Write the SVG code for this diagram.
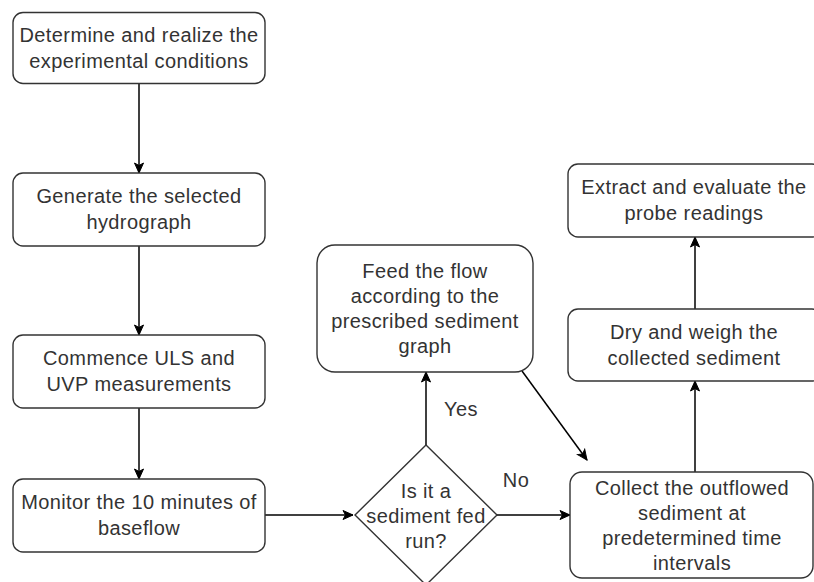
<svg xmlns="http://www.w3.org/2000/svg" width="814" height="582" viewBox="0 0 814 582">
<defs>
<marker id="arr" markerUnits="userSpaceOnUse" markerWidth="12" markerHeight="12" viewBox="0 0 12 12" refX="11" refY="6" orient="auto">
<path d="M1,1.5 L11,6 L1,10.5 L3.5,6 Z" fill="#000" stroke="#000" stroke-width="1"/>
</marker>
<style>
.box{fill:#fff;stroke:#333;stroke-width:1.4}
.t{font-family:"Liberation Sans",Arial,sans-serif;font-size:20px;fill:#333;text-anchor:middle;letter-spacing:0.4px}
.e{fill:none;stroke:#000;stroke-width:1.5;marker-end:url(#arr)}
</style>
</defs>
<rect width="814" height="582" fill="#fff"/>
<g id="connectors">
<line class="e" x1="139" y1="84" x2="139" y2="173"/>
<line class="e" x1="139" y1="246" x2="139" y2="335"/>
<line class="e" x1="139" y1="408" x2="139" y2="479"/>
<line class="e" x1="265" y1="515" x2="353" y2="515"/>
<line class="e" x1="426" y1="445" x2="426" y2="372"/>
<line class="e" x1="497" y1="515" x2="570" y2="515"/>
<line class="e" x1="522" y1="371" x2="587" y2="460"/>
<line class="e" x1="695" y1="472" x2="695" y2="381"/>
<line class="e" x1="695" y1="309" x2="695" y2="237"/>
<text class="t" x="461" y="416">Yes</text>
<text class="t" x="516" y="487">No</text>
</g>
<g id="n1">
<rect class="box" x="13" y="12.5" width="252" height="71" rx="10"/>
<text class="t" x="139" y="42">Determine and realize the</text>
<text class="t" x="139" y="68">experimental conditions</text>
</g>
<g id="n2">
<rect class="box" x="13" y="173" width="252" height="73" rx="10"/>
<text class="t" x="139" y="203">Generate the selected</text>
<text class="t" x="139" y="229">hydrograph</text>
</g>
<g id="n3">
<rect class="box" x="13" y="335" width="252" height="73" rx="10"/>
<text class="t" x="139" y="365">Commence ULS and</text>
<text class="t" x="139" y="391">UVP measurements</text>
</g>
<g id="n4">
<rect class="box" x="13" y="479" width="252" height="73" rx="10"/>
<text class="t" x="139" y="509">Monitor the 10 minutes of</text>
<text class="t" x="139" y="535">baseflow</text>
</g>
<g id="n5">
<polygon class="box" points="426,445 497,515 426,585 355,515"/>
<text class="t" x="426" y="498">Is it a</text>
<text class="t" x="426" y="523">sediment fed</text>
<text class="t" x="426" y="548">run?</text>
</g>
<g id="n6">
<rect class="box" x="317" y="245" width="216" height="127" rx="18"/>
<text class="t" x="425" y="278">Feed the flow</text>
<text class="t" x="425" y="303">according to the</text>
<text class="t" x="425" y="328">prescribed sediment</text>
<text class="t" x="425" y="353">graph</text>
</g>
<g id="n7">
<rect class="box" x="570" y="472" width="243" height="106" rx="12"/>
<text class="t" x="692" y="495">Collect the outflowed</text>
<text class="t" x="692" y="520">sediment at</text>
<text class="t" x="692" y="545">predetermined time</text>
<text class="t" x="692" y="570">intervals</text>
</g>
<g id="n8">
<rect class="box" x="568" y="309" width="254" height="72" rx="10"/>
<text class="t" x="694" y="339">Dry and weigh the</text>
<text class="t" x="694" y="365">collected sediment</text>
</g>
<g id="n9">
<rect class="box" x="568" y="164" width="254" height="73" rx="10"/>
<text class="t" x="694" y="194">Extract and evaluate the</text>
<text class="t" x="694" y="220">probe readings</text>
</g>
</svg>
